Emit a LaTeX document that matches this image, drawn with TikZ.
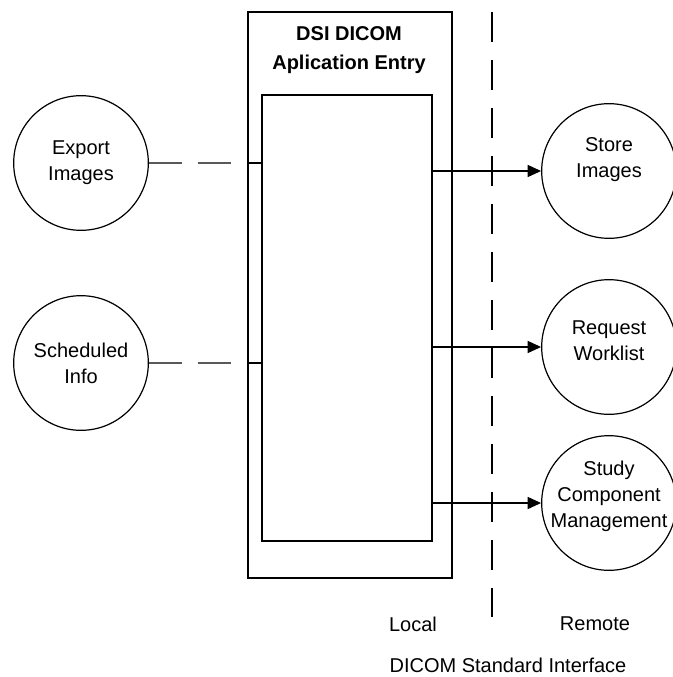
\documentclass[tikz,border=0pt]{standalone}
\usepackage{fontspec}
\setmainfont{Liberation Sans}
\usetikzlibrary{arrows.meta}

\begin{document}
\begin{tikzpicture}[x=0.75pt,y=-0.75pt]
  \tikzstyle{every node}+=[inner sep=0pt, font=\fontsize{15}{19.5}\selectfont, align=center]
  \tikzstyle{proc}=[draw=black, line width=0.9pt, circle, minimum size=101pt]
  \tikzstyle{box}=[draw=black, line width=0.9pt, rectangle]
  \tikzstyle{feed}=[draw=black!65, line width=1.3pt, dash pattern=on 24.75pt off 12pt]
  \tikzstyle{link}=[draw=black, line width=0.9pt]
  \tikzstyle{send}=[link, -{Triangle[length=10pt,width=9pt]}]
  \tikzstyle{border}=[draw=black, line width=1.2pt, dash pattern=on 22.5pt off 13.5pt]
  \useasboundingbox (0,0) rectangle (672,677);
  \node [box, minimum width=153pt, minimum height=424.5pt] (ae) at (350,295) {};
  \node [box, minimum width=127.5pt, minimum height=334.5pt] (inner) at (347,318) {};
  \node [font=\fontsize{15}{21.75}\selectfont\bfseries] (title) at (349,50) {DSI DICOM\\Aplication Entry};
  \node [proc] (export) at (81,163) {Export\\Images};
  \node [proc] (sched) at (81,363) {Scheduled\\Info};
  \node [proc] (store) at (609,171) {};
  \node (storetxt) at (609,160) {Store\\Images};
  \node [proc] (worklist) at (609,347) {};
  \node (worklisttxt) at (609,341) {Request\\Worklist};
  \node [proc] (study) at (609,503) {};
  \node (studytxt) at (609,496) {Study\\Component\\Management};
  \coordinate (sep top) at (492,12);
  \coordinate (sep bot) at (492,617);
  \draw [border] (sep top) -- (sep bot);
  \node (local) at (413,624) {Local};
  \node (remote) at (595,624) {Remote};
  \node (iface) at (508,665) {DICOM Standard Interface};
  \draw [feed] (export) -- (export -| ae.west);
  \draw [link] (export -| ae.west) -- (export -| inner.west);
  \draw [feed] (sched) -- (sched -| ae.west);
  \draw [link] (sched -| ae.west) -- (sched -| inner.west);
  \draw [send] (store -| inner.east) -- (store);
  \draw [send] (worklist -| inner.east) -- (worklist);
  \draw [send] (study -| inner.east) -- (study);
\end{tikzpicture}
\end{document}
